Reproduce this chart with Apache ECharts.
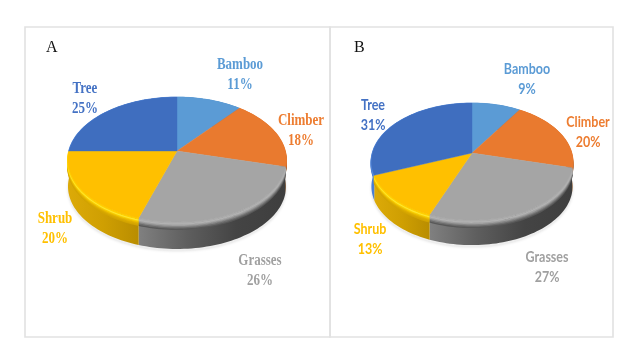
<!DOCTYPE html>
<html lang="en">
<head>
    <meta charset="UTF-8">
    <title>Plant types</title>
    <style>
        html, body { margin: 0; background: #fff; }
        #chart { width: 630px; height: 355px; filter: blur(0.4px); }
    </style>
    <script src="https://cdn.jsdelivr.net/npm/echarts@6/dist/echarts.min.js"></script>
</head>
<body>
<div id="chart"></div>
<script type="text/javascript">
    // data, clockwise from 12 o'clock
    var categories = ['Bamboo', 'Climber', 'Grasses', 'Shrub', 'Tree'];
    var valuesA = [11, 18, 26, 20, 25];
    var valuesB = [9, 20, 27, 13, 31];

    // colours per category
    var topColors = ['#5b9bd5', '#e97a2f', '#a5a5a5', '#ffc000', '#3f6ebf'];
    var textColors = ['#5b9bd5', '#ed7d31', '#a0a0a0', '#ffc000', '#4472c4'];
    var sideColors = [
        ['#3f78ad', '#3f78ad'],
        ['#b8641f', '#6e3c10'],
        ['#808080', '#5e5e5e', '#444444', '#3e3e3e'],
        ['#dcaa08', '#cf9f02', '#b98d00'],
        ['#4a7fd6', '#3a66b5']
    ];
    var rimColors = [
        ['#5b9bd5', '#4f8bc2', '#437aad'],
        ['#e97a2f', '#c86a28', '#a05520', '#824516'],
        ['#adadad', '#b2b2b2', '#a0a0a0', '#868686', '#6c6c6c', '#585858'],
        ['#ffd000', '#ffe52e', '#f6cc00', '#e6b500', '#d9a900', '#d2a300'],
        ['#5a8ee0', '#4c80d4', '#4072c4']
    ];

    // layout of the two panels
    var panelA = {
        cx: 177, cy: 151, rx: 108, ry: 61.3, p: 0.136, depth: 27,
        font: 'bold 13px "Liberation Serif"', textScale: 1.25,
        labelPos: [[240, 75], [301, 131], [260, 271], [55, 229], [85, 99]]
    };
    var panelB = {
        cx: 472, cy: 153, rx: 99.5, ry: 57.3, p: 0.146, depth: 25,
        font: 'bold 12.5px Lato', textScale: 1.15,
        labelPos: [[527, 79], [588, 132], [547, 267], [370, 239], [373, 115]]
    };

    // circle -> tilted disc with a little perspective
    function project(panel, frac, offset) {
        var a = frac * Math.PI * 2;
        var u = Math.sin(a), v = -Math.cos(a);
        var w = 1 - panel.p * v;
        return [panel.cx + panel.rx * u / w, panel.cy + panel.ry * v / w + offset];
    }

    function arc(panel, from, to, offset) {
        var pts = [];
        var n = Math.max(2, Math.ceil((to - from) * 200));
        for (var i = 0; i <= n; i++) {
            pts.push(project(panel, from + (to - from) * i / n, offset));
        }
        return pts;
    }

    function labelText(panel, i, text, dy) {
        return {
            type: 'text',
            z2: 4,
            x: panel.labelPos[i][0],
            y: panel.labelPos[i][1] + dy,
            scaleY: panel.textScale,
            style: {
                text: text,
                fill: textColors[i],
                font: panel.font,
                align: 'center',
                verticalAlign: 'middle'
            }
        };
    }

    function pieSeries(values, panel) {
        var total = values.reduce(function (s, v) { return s + v; }, 0);
        return {
            type: 'custom',
            coordinateSystem: 'none',
            animation: false,
            silent: true,
            data: categories.map(function (c, i) {
                return { name: c, value: values[i] };
            }),
            renderItem: function (params, api) {
                var i = params.dataIndex;
                var before = 0;
                for (var k = 0; k < i; k++) before += values[k];
                var from = before / total;
                var to = (before + api.value(0)) / total;
                var children = [];

                if (i === 0) {
                    // soft shadow under the whole disc
                    children.push({
                        type: 'polygon',
                        z2: 0,
                        shape: { points: arc(panel, 0, 1, panel.depth + 2) },
                        style: { fill: '#eeeeee', shadowBlur: 3, shadowColor: '#dddddd' }
                    });
                }

                var topArc = arc(panel, from, to, 0);
                var side = topArc.concat(arc(panel, from, to, panel.depth).reverse());
                var stops = sideColors[i].map(function (col, s, list) {
                    return { offset: s / (list.length - 1), color: col };
                });
                children.push({
                    type: 'polygon',
                    z2: 1,
                    shape: { points: side },
                    style: {
                        fill: new echarts.graphic.LinearGradient(0, 0, 1, 0, stops),
                        stroke: 'none'
                    }
                });

                // bevel along the front edge
                rimColors[i].forEach(function (col, s) {
                    children.push({
                        type: 'polyline',
                        z2: 2 + (rimColors[i].length - s) / 10,
                        shape: { points: arc(panel, from, to, s * 1.3 + 0.6) },
                        style: { stroke: col, lineWidth: 1.8, fill: 'none' }
                    });
                });

                children.push({
                    type: 'polygon',
                    z2: 3,
                    shape: { points: [[panel.cx, panel.cy]].concat(topArc) },
                    style: { fill: topColors[i], stroke: topColors[i], lineWidth: 0.4 }
                });

                children.push(labelText(panel, i, categories[i], -10));
                children.push(labelText(panel, i, api.value(0) + '%', 10));

                return { type: 'group', children: children };
            }
        };
    }

    var frameColor = '#e2e2e2';
    var frameStyle = { fill: 'none', stroke: frameColor, lineWidth: 1.6 };

    var myChart = echarts.init(document.getElementById('chart'));
    var option = {
        backgroundColor: '#ffffff',
        graphic: [
            { type: 'rect', shape: { x: 25, y: 27, width: 305, height: 310 }, style: frameStyle, silent: true },
            { type: 'rect', shape: { x: 330, y: 27, width: 283, height: 310 }, style: frameStyle, silent: true },
            { type: 'text', x: 46, y: 40, silent: true, style: { text: 'A', font: '16px "Liberation Serif"', fill: '#111' } },
            { type: 'text', x: 354, y: 40, silent: true, style: { text: 'B', font: '16px "Liberation Serif"', fill: '#111' } }
        ],
        series: [pieSeries(valuesA, panelA), pieSeries(valuesB, panelB)]
    };
    myChart.setOption(option);
</script>
</body>
</html>
